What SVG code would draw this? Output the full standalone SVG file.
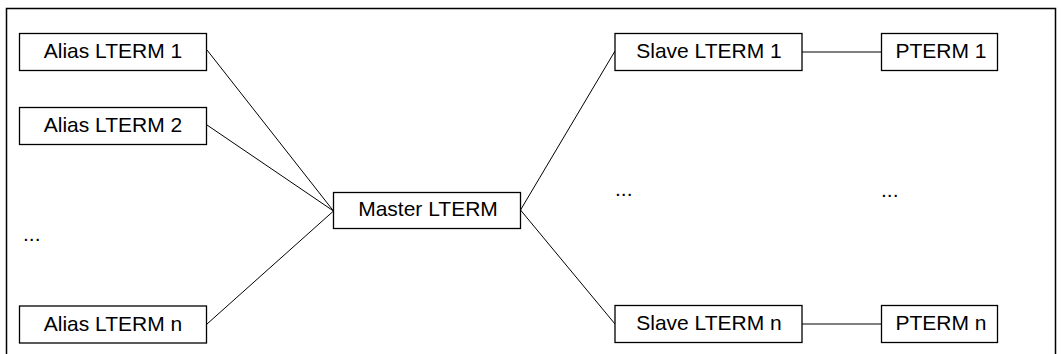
<svg xmlns="http://www.w3.org/2000/svg" width="1061" height="354" viewBox="0 0 1061 354">
<style>
.box{fill:#fff;stroke:#000;stroke-width:1.3}
.lbl{font-family:"Liberation Sans",Arial,sans-serif;font-size:21px;fill:#000;text-anchor:middle}
.dots{font-family:"Liberation Sans",Arial,sans-serif;font-size:21px;fill:#000}
.conn{stroke:#000;stroke-width:1;fill:none}
</style>
<rect width="1061" height="354" fill="#fff"/>
<path d="M6.5,360 V8.5 H1055.5 V360" fill="none" stroke="#000" stroke-width="1.5"/>
<g id="connectors">
<line class="conn" x1="207" y1="50" x2="333.5" y2="211"/>
<line class="conn" x1="207" y1="125" x2="333.5" y2="211"/>
<line class="conn" x1="207" y1="324" x2="333.5" y2="211"/>
<line class="conn" x1="520.5" y1="210" x2="615" y2="51"/>
<line class="conn" x1="520.5" y1="210" x2="615" y2="324"/>
<line class="conn" x1="802" y1="52" x2="881.5" y2="52"/>
<line class="conn" x1="802" y1="324" x2="881.5" y2="324"/>
</g>
<g id="alias1"><rect class="box" x="19.5" y="33.5" width="187" height="37"/><text class="lbl" x="113" y="58">Alias LTERM 1</text></g>
<g id="alias2"><rect class="box" x="19.5" y="107.5" width="187" height="37"/><text class="lbl" x="113" y="132">Alias LTERM 2</text></g>
<g id="aliasn"><rect class="box" x="19.5" y="306" width="187" height="37"/><text class="lbl" x="113" y="331">Alias LTERM n</text></g>
<g id="master"><rect class="box" x="333.5" y="192.5" width="187" height="36"/><text class="lbl" x="428" y="216">Master LTERM</text></g>
<g id="slave1"><rect class="box" x="615" y="33.5" width="187" height="37"/><text class="lbl" x="709" y="58">Slave LTERM 1</text></g>
<g id="slaven"><rect class="box" x="615" y="305.5" width="187" height="37"/><text class="lbl" x="709" y="330">Slave LTERM n</text></g>
<g id="pterm1"><rect class="box" x="881.5" y="33.5" width="116" height="37"/><text class="lbl" x="941" y="58">PTERM 1</text></g>
<g id="ptermn"><rect class="box" x="881.5" y="305.5" width="116" height="37"/><text class="lbl" x="941" y="330">PTERM n</text></g>
<text class="dots" x="23" y="241">...</text>
<text class="dots" x="615" y="196">...</text>
<text class="dots" x="881" y="197">...</text>
</svg>
